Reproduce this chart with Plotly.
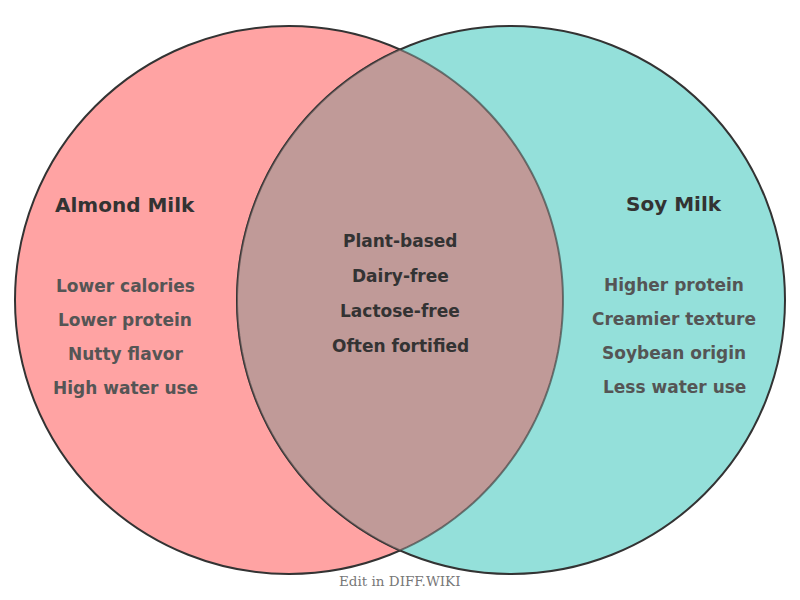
import numpy as np
import plotly.graph_objects as go

sets = ["Almond Milk", "Soy Milk"]
left_items = ["Lower calories", "Lower protein", "Nutty flavor", "High water use"]
right_items = ["Higher protein", "Creamier texture", "Soybean origin", "Less water use"]
shared_items = ["Plant-based", "Dairy-free", "Lactose-free", "Often fortified"]

R = 274
cL = (289, 300)
cR = (511, 300)

fig = go.Figure()
fig.update_layout(width=800, height=600, margin=dict(l=0, r=0, t=0, b=0),
                  plot_bgcolor="white", paper_bgcolor="white", showlegend=False,
                  xaxis=dict(range=[0, 800], visible=False, fixedrange=True),
                  yaxis=dict(range=[600, 0], visible=False, fixedrange=True))

def circ(c, fill):
    fig.add_shape(type="circle", x0=c[0]-R, x1=c[0]+R, y0=c[1]-R, y1=c[1]+R,
                  fillcolor=fill, line=dict(color="#333", width=2), layer="below")

circ(cL, "#FFA3A3")
circ(cR, "#94E0DA")

d = (cR[0]-cL[0]) / 2
h = np.sqrt(R**2 - d**2)
a = np.arctan2(h, d)
t1 = np.linspace(np.pi - a, np.pi + a, 80)
t2 = np.linspace(-a, a, 80)
pts = [(cR[0] + R*np.cos(t), cR[1] + R*np.sin(t)) for t in t1] + \
      [(cL[0] + R*np.cos(t), cL[1] + R*np.sin(t)) for t in t2]
path = "M " + " L ".join(f"{x:.2f},{y:.2f}" for x, y in pts) + " Z"
fig.add_shape(type="path", path=path, fillcolor="#C09A98", line=dict(color="rgba(51,51,51,0.6)", width=2), layer="below")

font = "DejaVu Sans"
def txt(x, y, s, size, color):
    fig.add_annotation(x=x, y=y, text=f"<b>{s}</b>", showarrow=False,
                       font=dict(family=font, size=size, color=color))

txt(125, 205, sets[0], 20, "#333")
txt(674, 204, sets[1], 20, "#333")
for i, s in enumerate(left_items):
    txt(125, 286 + 34*i, s, 17, "#555")
for i, s in enumerate(right_items):
    txt(674, 285 + 34*i, s, 17, "#555")
for i, s in enumerate(shared_items):
    txt(400, 241 + 35*i, s, 17, "#333")

fig.add_annotation(x=400, y=581, text="Edit in DIFF.WIKI", showarrow=False,
                   font=dict(family="DejaVu Serif", size=13.5, color="#777"))

fig.write_html("out.html", config={"displayModeBar": False},
               post_script="document.body.style.margin='0';")
